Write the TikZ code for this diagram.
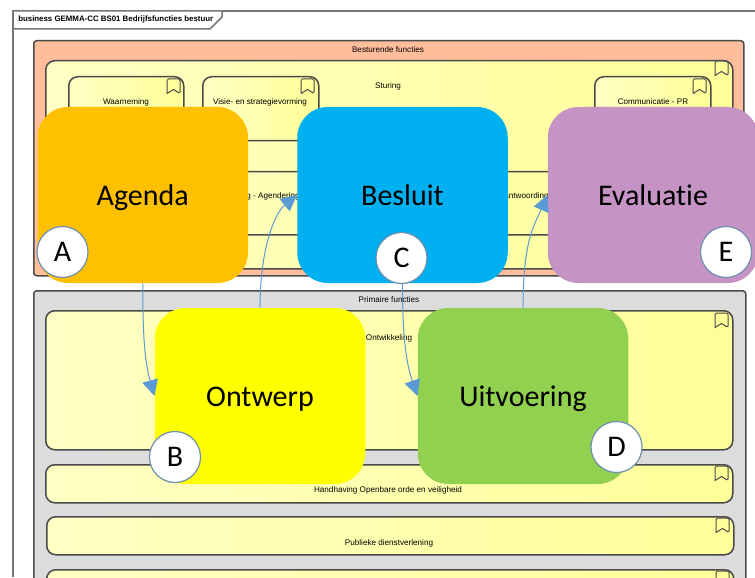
\documentclass[tikz,border=0pt]{standalone}
\usepackage{fontspec}
\setmainfont{Liberation Sans}
\newfontfamily\stepfont[Ligatures=NoCommon]{Carlito}
\usetikzlibrary{arrows.meta}

\def\px{0.75pt}
\definecolor{framegrey}{HTML}{777777}
\definecolor{panelline}{HTML}{4A4A4A}
\definecolor{sturend}{HTML}{FFBD9C}
\definecolor{primair}{HTML}{DCDCDC}
\definecolor{archileft}{HTML}{FFFFC4}
\definecolor{archiright}{HTML}{FFFF99}
\definecolor{flowblue}{HTML}{5B9BD5}
\definecolor{badgeline}{HTML}{6F8FAF}

\tikzset{
  panel/.style={draw=panelline, line width=1.5*\px, rounded corners=3*\px, anchor=north west, inner sep=0pt},
  funcbox/.style={panel, left color=archileft, right color=archiright, rounded corners=9*\px},
  tinytext/.style={font=\fontsize{6.1}{7}\selectfont, inner sep=0pt},
  stepbox/.style={minimum width=210.5*\px, minimum height=176*\px, rounded corners=23pt, inner sep=0pt,
                  text height=21pt, text depth=5.5pt, font=\stepfont\fontsize{22.5}{26}\selectfont},
  badge/.style={circle, fill=white, draw=badgeline, line width=1.2*\px, minimum size=51*\px, inner sep=0pt,
                font=\stepfont\fontsize{22.5}{26}\selectfont},
  flow/.style={->, draw=flowblue, line width=1*\px},
  bookmark/.pic={
    \draw[panelline, line width=1*\px, rounded corners=1.5*\px]
      (0,14.5) -- (0,0) -- (13,0) -- (13,14.5) [sharp corners] -- (6.5,10.5) -- cycle;
  }
}

\begin{document}
\begin{tikzpicture}[x=0.75pt, y=-0.75pt, >={Triangle[length=12pt,width=12pt]}]
    \useasboundingbox (0,0) rectangle (755,577);
    \clip (0,0) rectangle (755,577);

    % diagram frame
    \draw[framegrey, line width=1.5*\px] (755,11) -- (13,11) -- (13,577);
    \draw[framegrey, line width=1.5*\px, fill=white] (13,11) -- (222,11) -- (222,17) -- (210,29) -- (13,29) -- cycle;
    \node[tinytext, anchor=west, font=\bfseries\fontsize{5.9}{7}\selectfont] (title) at (18,19) {business GEMMA-CC BS01 Bedrijfsfuncties bestuur};

    % besturende functies
    \node[panel, fill=sturend, minimum width=710*\px, minimum height=235*\px] (besturend) at (33,40) {};
    \node[funcbox, minimum width=687*\px, minimum height=208*\px] (sturing) at (45,60) {};
    \node[funcbox, minimum width=115*\px, minimum height=64*\px] (waarneming) at (68,76) {};
    \node[funcbox, minimum width=116*\px, minimum height=64*\px] (visie) at (202,76) {};
    \node[funcbox, minimum width=116*\px, minimum height=64*\px] (communicatie) at (594,76) {};
    \node[funcbox, minimum width=642*\px, minimum height=63*\px] (band) at (68,171) {};

    \node[tinytext] (besturendtext) at (388,50) {Besturende functies};
    \node[tinytext] (sturingtext) at (388,86) {Sturing};
    \node[tinytext] (waarnemingtext) at (126,102) {Waarneming};
    \node[tinytext] (visietext) at (260,102) {Visie- en strategievorming};
    \node[tinytext] (communicatietext) at (653,102) {Communicatie - PR};
    \node[tinytext, anchor=east] (agendatext) at (300,196.5) {Beleidsvorming - Agendering};
    \node[tinytext, anchor=east] (verantwtext) at (549,196.5) {Verantwoording};

    % primaire functies
    \node[panel, fill=primair, minimum width=712*\px, minimum height=330*\px] (primaire) at (33,290) {};
    \node[funcbox, minimum width=687*\px, minimum height=139*\px] (ontwikkeling) at (45,310) {};
    \node[funcbox, minimum width=687*\px, minimum height=38*\px] (handhaving) at (45,464) {};
    \node[funcbox, minimum width=687*\px, minimum height=38*\px] (publiek) at (46,516) {};
    \node[funcbox, minimum width=687*\px, minimum height=38*\px] (overig) at (46,569) {};

    \node[tinytext] (primairetext) at (389,300) {Primaire functies};
    \node[tinytext] (ontwikkelingtext) at (389,338) {Ontwikkeling};
    \node[tinytext] (handhavingtext) at (388,490) {Handhaving Openbare orde en veiligheid};
    \node[tinytext] (publiektext) at (389,543) {Publieke dienstverlening};

    \foreach \x/\y in {167/79, 301/79, 693/79, 715/61, 715/313, 715/466, 716/518, 716/571}
      \pic at (\x,\y) {bookmark};

    % the five steps
    \node[stepbox, fill={rgb,255:red,255;green,192;blue,0}] (agenda) at (142.75,195) {Agenda};
    \node[stepbox, fill={rgb,255:red,0;green,176;blue,240}] (besluit) at (402.5,195) {Besluit};
    \node[stepbox, fill={rgb,255:red,197;green,148;blue,197}] (evaluatie) at (653,195) {Evaluatie};
    \node[stepbox, fill={rgb,255:red,255;green,255;blue,0}] (ontwerp) at (260,396) {Ontwerp};
    \node[stepbox, fill={rgb,255:red,146;green,208;blue,80}] (uitvoering) at (523,396) {Uitvoering};

    \draw[flow] (agenda.south) .. controls +(0,50) and +(-10,-35) .. (ontwerp.west);
    \draw[flow] (ontwerp.north) .. controls +(0,-60) and +(-22,18) .. (besluit.west);
    \draw[flow] (besluit.south) .. controls +(0,50) and +(-12,-35) .. (uitvoering.west);
    \draw[flow] (uitvoering.north) .. controls +(0,-70) and +(-12,28) .. (evaluatie.west);

    \node[badge] (a) at (62.5,252) {A};
    \node[badge] (b) at (175,457) {B};
    \node[badge] (c) at (401.5,258) {C};
    \node[badge] (d) at (616.5,447) {D};
    \node[badge] (e) at (726,252) {E};
\end{tikzpicture}
\end{document}
